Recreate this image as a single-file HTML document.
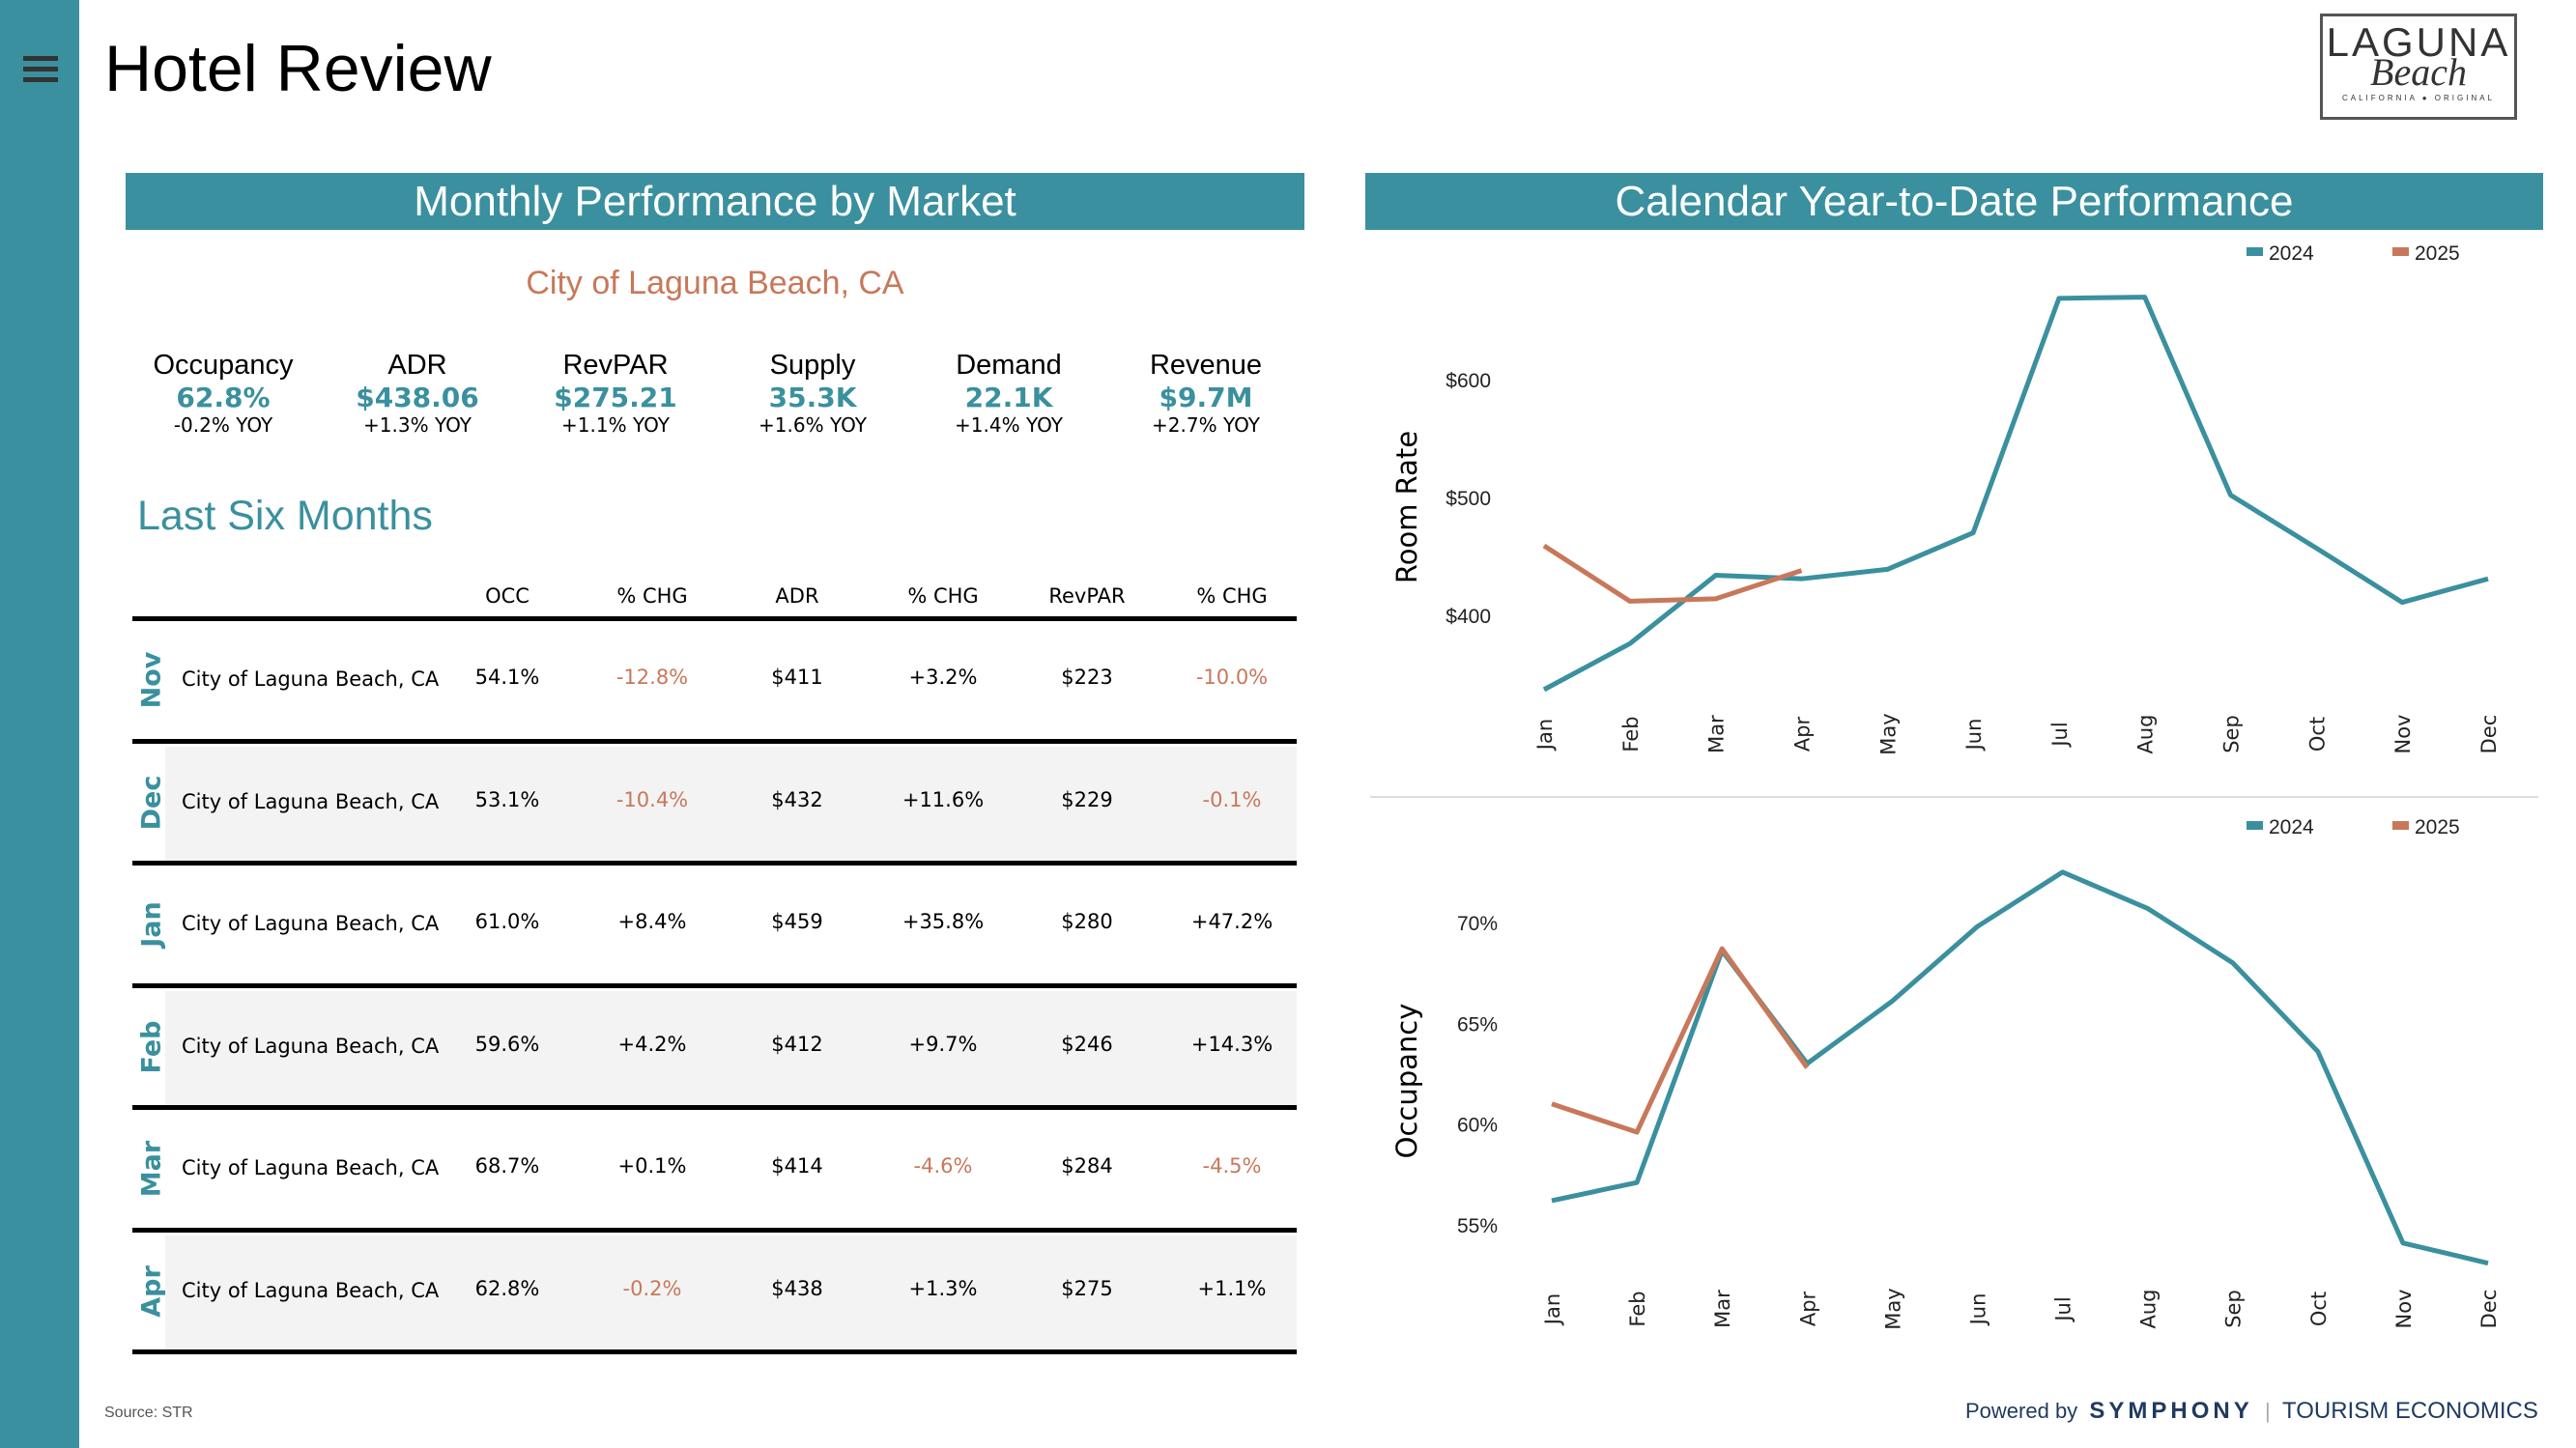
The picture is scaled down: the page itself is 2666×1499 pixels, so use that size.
<!DOCTYPE html>
<html><head><meta charset="utf-8">
<style>
*{margin:0;padding:0;box-sizing:border-box}
body{width:2666px;height:1499px;position:relative;background:#fff;font-family:"Liberation Sans",sans-serif;overflow:hidden}
.a{position:absolute}
.sidebar{left:0;top:0;width:82px;height:1499px;background:#3a909e}
.hb{left:24px;width:36px;height:5px;background:#333}
.hdr{top:179px;height:59px;background:#3a909e;color:#fff;font-size:44px;text-align:center;line-height:59px}
.kpi{width:200px;text-align:center;margin-left:-100px}
.kl{font-size:29px;color:#000}
.kv{font-size:28px;font-weight:bold;color:#3a909e;font-family:"DejaVu Sans",sans-serif}
.ky{font-size:20px;color:#000;font-family:"DejaVu Sans",sans-serif}
.th{top:605px;font-size:21px;font-family:"DejaVu Sans",sans-serif;width:150px;margin-left:-75px;text-align:center}
.cell{font-size:21px;font-family:"DejaVu Sans",sans-serif;width:150px;margin-left:-75px;text-align:center}
.neg{color:#c8785a}
.mk{font-size:21px;font-family:"DejaVu Sans",sans-serif}
.mon{font-size:27px;font-weight:bold;color:#3a909e;font-family:"DejaVu Sans",sans-serif;transform:translate(-50%,-50%) rotate(-90deg);white-space:nowrap}
.rule{left:137px;width:1205px;height:5px;background:#000}
.band{left:171px;width:1171px;background:#f3f3f3}
</style></head><body>
<div class="a sidebar"></div>
<div class="a" style="left:20px;top:52px;width:44px;height:36px">
<div class="a hb" style="left:4px;top:6px"></div><div class="a hb" style="left:4px;top:17px"></div><div class="a hb" style="left:4px;top:28px"></div></div>
<div class="a" style="left:108px;top:32px;font-size:68px">Hotel Review</div>
<div class="a" style="left:2401px;top:14px;width:204px;height:110px;border:3px solid #555;text-align:center">
<div style="font-size:42px;letter-spacing:3px;color:#333;margin-top:6px;line-height:42px">LAGUNA</div>
<div style="font-size:40px;font-style:italic;font-family:'Liberation Serif',serif;color:#333;line-height:32px;margin-top:-6px">Beach</div>
<div style="font-size:8px;letter-spacing:3px;color:#333;margin-top:6px">CALIFORNIA ● ORIGINAL</div></div>

<div class="a hdr" style="left:130px;width:1220px">Monthly Performance by Market</div>
<div class="a hdr" style="left:1413px;width:1219px">Calendar Year-to-Date Performance</div>
<div class="a" style="left:130px;width:1220px;top:274px;text-align:center;font-size:34px;color:#c8785a">City of Laguna Beach, CA</div>

<div class="a kpi" style="left:231px;top:362px"><div class="kl">Occupancy</div><div class="kv">62.8%</div><div class="ky">-0.2% YOY</div></div>
<div class="a kpi" style="left:432px;top:362px"><div class="kl">ADR</div><div class="kv">$438.06</div><div class="ky">+1.3% YOY</div></div>
<div class="a kpi" style="left:637px;top:362px"><div class="kl">RevPAR</div><div class="kv">$275.21</div><div class="ky">+1.1% YOY</div></div>
<div class="a kpi" style="left:841px;top:362px"><div class="kl">Supply</div><div class="kv">35.3K</div><div class="ky">+1.6% YOY</div></div>
<div class="a kpi" style="left:1044px;top:362px"><div class="kl">Demand</div><div class="kv">22.1K</div><div class="ky">+1.4% YOY</div></div>
<div class="a kpi" style="left:1248px;top:362px"><div class="kl">Revenue</div><div class="kv">$9.7M</div><div class="ky">+2.7% YOY</div></div>

<div class="a" style="left:142px;top:510px;font-size:43px;color:#3a909e">Last Six Months</div>
<div id="table"></div>

<div class="a" style="left:1418px;top:824px;width:1209px;height:2px;background:#ddd"></div>
<svg id="charts" class="a" style="left:0;top:0" width="2666" height="1499"></svg>

<div class="a" style="left:108px;top:1454px;font-size:16px;color:#555">Source: STR</div>
<div class="a" style="left:2034px;top:1447px;font-size:22px;color:#1f3a5f;white-space:nowrap">Powered by &nbsp;<b style="letter-spacing:4px;font-size:24px">SYMPHONY</b> <span style="color:#aaa">&nbsp;|&nbsp;</span> <span style="font-size:24px">TOURISM ECONOMICS</span></div>

<script>
const rowMonths=["Nov","Dec","Jan","Feb","Mar","Apr"];
const rowOcc=["54.1%","53.1%","61.0%","59.6%","68.7%","62.8%"];
const rowOccChg=["-12.8%","-10.4%","+8.4%","+4.2%","+0.1%","-0.2%"];
const rowAdr=["$411","$432","$459","$412","$414","$438"];
const rowAdrChg=["+3.2%","+11.6%","+35.8%","+9.7%","-4.6%","+1.3%"];
const rowRevpar=["$223","$229","$280","$246","$284","$275"];
const rowRevparChg=["-10.0%","-0.1%","+47.2%","+14.3%","-4.5%","+1.1%"];
const months=["Jan","Feb","Mar","Apr","May","Jun","Jul","Aug","Sep","Oct","Nov","Dec"];
const adr2024=[337,376,434,431,439,470,669,670,502,457,411,431];
const adr2025=[459,412,414,438];
const adrTicks=[400,500,600];
const occ2024=[56.2,57.1,68.6,63.0,66.1,69.8,72.5,70.7,68.0,63.6,54.1,53.1];
const occ2025=[61.0,59.6,68.7,62.8];
const occTicks=[55,60,65,70];

const T=document.getElementById('table');
function div(cls,style,txt,name){const d=document.createElement('div');d.className='a '+cls;d.style.cssText=style;if(txt!==undefined)d.textContent=txt;


T.appendChild(d);return d;}
const colX=[525,675,825,976,1125,1275];
["OCC","% CHG","ADR","% CHG","RevPAR","% CHG"].forEach((h,i)=>div('th','left:'+colX[i]+'px',h,'column-header'));
div('rule','top:638px','', 'header-rule');
const top0=641,rh=126.5;
rowMonths.forEach((m,r)=>{
  const y=top0+r*rh;
  if(r%2===1) div('band','top:'+(y+5)+'px;height:'+(rh-5)+'px','','row-band');
  const cy=y+rh/2;
  div('mon','left:157px;top:'+cy+'px',m,'row-month-label');
  div('mk','left:188px;top:'+(cy-13)+'px','City of Laguna Beach, CA','row-market-name');
  const vals=[rowOcc[r],rowOccChg[r],rowAdr[r],rowAdrChg[r],rowRevpar[r],rowRevparChg[r]];
  vals.forEach((v,i)=>{div('cell'+((i%2===1&&v[0]==='-')?' neg':''),'left:'+colX[i]+'px;top:'+(cy-15)+'px',v,'table-cell');});
  div('rule','top:'+(y+rh-3)+'px','','row-rule');
});

const S=document.getElementById('charts');const NS='http://www.w3.org/2000/svg';
function el(t,a,txt,name){const e=document.createElementNS(NS,t);for(const k in a)e.setAttribute(k,a[k]);if(txt!==undefined)e.textContent=txt;


S.appendChild(e);return e;}
const teal='#3a909e',orange='#c8785a';
function chart(cfg){
  const x=i=>cfg.x0+i*(cfg.x1-cfg.x0)/11;
  const y=v=>cfg.yA+(v-cfg.vA)*(cfg.yB-cfg.yA)/(cfg.vB-cfg.vA);
  cfg.ticks.forEach(t=>el('text',{x:cfg.tickX,y:y(t)+8,'text-anchor':'end','font-size':21,fill:'#222','font-family':'Liberation Sans'},cfg.fmt(t),'y-tick-label'));
  months.forEach((m,i)=>el('text',{x:0,y:0,transform:'translate('+(x(i)+8)+','+cfg.labY+') rotate(-90)','text-anchor':'middle','font-size':21,fill:'#222','font-family':'DejaVu Sans'},m,'x-tick-label'));
  el('text',{x:0,y:0,transform:'translate(1466,'+cfg.titleY+') rotate(-90)','text-anchor':'middle','font-size':29,fill:'#000','font-family':'DejaVu Sans'},cfg.title,'y-axis-title');
  el('polyline',{points:cfg.s24.map((v,i)=>x(i)+','+y(v)).join(' '),fill:'none',stroke:teal,'stroke-width':5,'stroke-linejoin':'round'},undefined,'line-2024');
  el('polyline',{points:cfg.s25.map((v,i)=>x(i)+','+y(v)).join(' '),fill:'none',stroke:orange,'stroke-width':5,'stroke-linejoin':'round'},undefined,'line-2025');
  el('rect',{x:2325,y:cfg.legY-5,width:17,height:9,fill:teal},undefined,'legend-swatch-2024');
  el('text',{x:2348,y:cfg.legY+8,'font-size':21,fill:'#222','font-family':'Liberation Sans'},'2024','legend-entry-2024');
  el('rect',{x:2476,y:cfg.legY-5,width:17,height:9,fill:orange},undefined,'legend-swatch-2025');
  el('text',{x:2499,y:cfg.legY+8,'font-size':21,fill:'#222','font-family':'Liberation Sans'},'2025','legend-entry-2025');
}
chart({x0:1598,x1:2575,vA:400,yA:637,vB:600,yB:393,ticks:adrTicks,fmt:t=>'$'+t,tickX:1543,labY:760,title:'Room Rate',titleY:525,s24:adr2024,s25:adr2025,legY:261});
chart({x0:1606,x1:2575,vA:55,yA:1268,vB:70,yB:955,ticks:occTicks,fmt:t=>t+'%',tickX:1550,labY:1355,title:'Occupancy',titleY:1119,s24:occ2024,s25:occ2025,legY:855});
</script>
</body></html>
